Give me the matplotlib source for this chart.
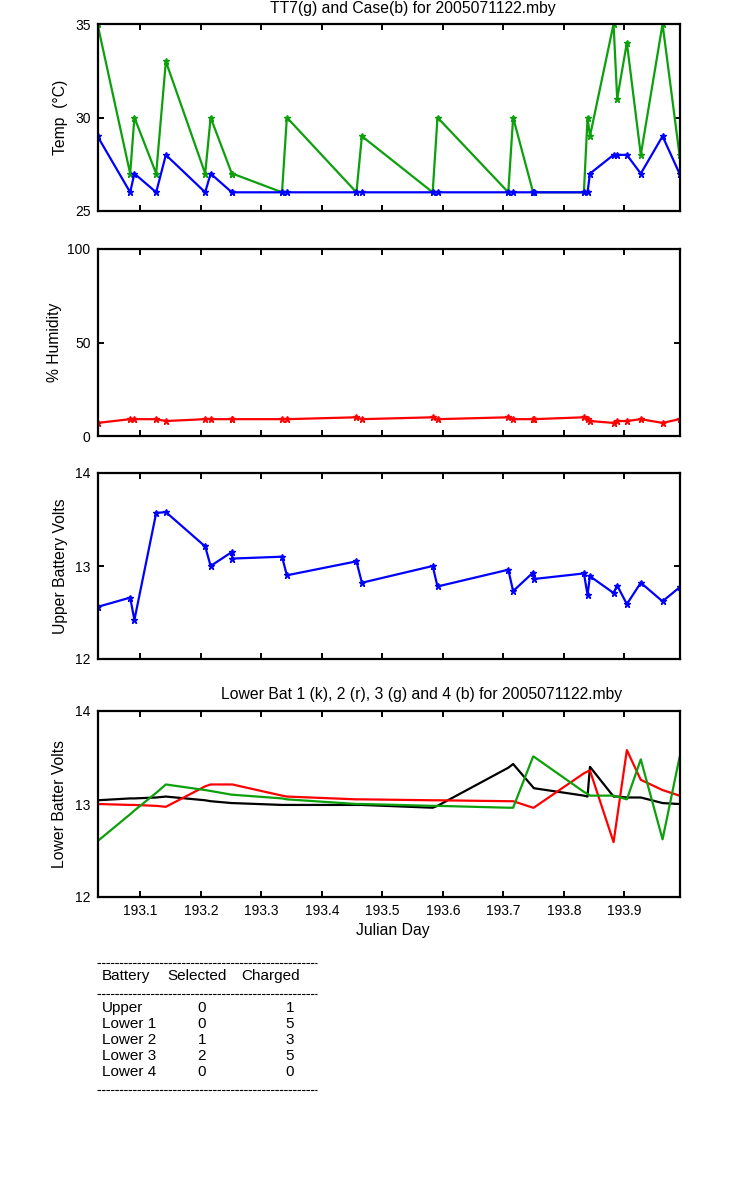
import numpy as np
import matplotlib
matplotlib.use('Agg')
import matplotlib.pyplot as plt
from matplotlib.lines import Line2D

plt.rcParams['font.family'] = ['Liberation Sans', 'DejaVu Sans']

# Julian day of each sample
t = [193.029, 193.083, 193.090, 193.126, 193.142, 193.207, 193.216, 193.251,
     193.252, 193.334, 193.342, 193.457, 193.466, 193.583, 193.591, 193.708,
     193.716, 193.749, 193.750, 193.833, 193.839, 193.843, 193.882, 193.888,
     193.904, 193.927, 193.963, 193.991]

tt7 = [35, 27, 30, 27, 33, 27, 30, 27, 27, 26, 30, 26, 29, 26, 30, 26,
       30, 26, 26, 26, 30, 29, 35, 31, 34, 28, 35, 28]
case = [29, 26, 27, 26, 28, 26, 27, 26, 26, 26, 26, 26, 26, 26, 26, 26,
        26, 26, 26, 26, 26, 27, 28, 28, 28, 27, 29, 27]

humidity = [7, 9, 9, 9, 8, 9, 9, 9, 9, 9, 9, 10, 9, 10, 9, 10,
            9, 9, 9, 10, 9, 8, 7, 8, 8, 9, 7, 9]

upper_bat = [12.56, 12.66, 12.42, 13.57, 13.58, 13.21, 13.00, 13.15, 13.08,
             13.10, 12.90, 13.05, 12.82, 13.00, 12.78, 12.96, 12.73, 12.93,
             12.86, 12.92, 12.69, 12.89, 12.71, 12.79, 12.59, 12.82, 12.62, 12.77]

lower1 = [13.04, 13.06, 13.06, 13.07, 13.08, 13.04, 13.03, 13.01, 13.01,
          12.99, 12.99, 12.99, 12.99, 12.96, 12.98, 13.39, 13.43, 13.18,
          13.17, 13.09, 13.08, 13.40, 13.08, 13.08, 13.07, 13.07, 13.01, 13.00]
lower2 = [13.00, 12.99, 12.99, 12.98, 12.97, 13.19, 13.21, 13.21, 13.21,
          13.09, 13.08, 13.05, 13.05, 13.04, 13.04, 13.03, 13.03, 12.96,
          12.96, 13.33, 13.35, 13.36, 12.59, 12.86, 13.58, 13.26, 13.15, 13.09]
lower3 = [12.60, 12.89, 12.93, 13.12, 13.21, 13.15, 13.14, 13.10, 13.10,
          13.06, 13.05, 13.00, 13.00, 12.98, 12.98, 12.96, 12.96, 13.51,
          13.51, 13.13, 13.11, 13.09, 13.09, 13.08, 13.05, 13.48, 12.62, 13.50]

x_ticks = [193.1, 193.2, 193.3, 193.4, 193.5, 193.6, 193.7, 193.8, 193.9]

tbl_batteries = ['Upper', 'Lower 1', 'Lower 2', 'Lower 3', 'Lower 4']
tbl_selected = [0, 0, 1, 2, 0]
tbl_charged = [1, 5, 3, 5, 0]

GREEN = '#0ca00c'
W, H = 750, 1200
LFS = 11.3   # label / title font size

fig = plt.figure(figsize=(7.5, 12), dpi=100)
fig.patch.set_facecolor('white')


def make_axes(top, bottom):
    ax = fig.add_axes([97.5 / W, 1 - bottom / H, 582 / W, (bottom - top) / H])
    for s in ax.spines.values():
        s.set_linewidth(1.6)
    ax.tick_params(direction='in', length=4, width=1.4, top=True, right=True,
                   labelsize=10, pad=5)
    ax.set_xlim(t[0], t[-1])
    ax.set_xticks(x_ticks)
    return ax


def ylab(ax, text, x):
    fig.text(x / W, 0.5 * (ax.get_position().y0 + ax.get_position().y1), text,
             rotation=90, ha='center', va='center', fontsize=LFS)


mk = dict(marker='*', markersize=5, lw=1.6)

# Temperature
ax1 = make_axes(24, 211)
ax1.plot(t, tt7, color=GREEN, **mk)
ax1.plot(t, case, color='#0000ff', **mk)
ax1.set_ylim(25, 35)
ax1.set_yticks([25, 30, 35])
ax1.set_xticklabels([])
ylab(ax1, 'Temp  (\u00b0C)', 61)
fig.text(413 / W, 1 - 9 / H, 'TT7(g) and Case(b) for 2005071122.mby',
         ha='center', va='center', fontsize=LFS)

# Humidity
ax2 = make_axes(249, 436)
ax2.plot(t, humidity, color='#ff0000', **mk)
ax2.set_ylim(0, 100)
ax2.set_yticks([0, 50, 100])
ax2.set_xticklabels([])
ylab(ax2, '% Humidity', 55)

# Upper battery
ax3 = make_axes(473, 659)
ax3.plot(t, upper_bat, color='#0000ff', **mk)
ax3.set_ylim(12, 14)
ax3.set_yticks([12, 13, 14])
ax3.set_xticklabels([])
ylab(ax3, 'Upper Battery Volts', 60)

# Lower batteries
ax4 = make_axes(711, 897)
ax4.plot(t, lower1, color='black', lw=1.6)
ax4.plot(t, lower2, color='#ff0000', lw=1.6)
ax4.plot(t, lower3, color=GREEN, lw=1.6)
ax4.set_ylim(12, 14)
ax4.set_yticks([12, 13, 14])
ax4.set_xticklabels(['%.1f' % v for v in x_ticks])
ylab(ax4, 'Lower Batter Volts', 60)
fig.text(422 / W, 1 - 694 / H,
         'Lower Bat 1 (k), 2 (r), 3 (g) and 4 (b) for 2005071122.mby',
         ha='center', va='center', fontsize=LFS)
fig.text(393 / W, 1 - 930 / H, 'Julian Day', ha='center', va='center',
         fontsize=LFS)

# battery table
for yy in [962.5, 994, 1090]:
    fig.add_artist(Line2D([97 / W, 317 / W], [1 - yy / H, 1 - yy / H],
                          color='black', lw=0.8, linestyle=(0, (3.2, 0.8)),
                          transform=fig.transFigure))
fs = 11
fig.text(102 / W, 1 - 976 / H, 'Battery', va='center', fontsize=fs)
fig.text(167 / W, 1 - 976 / H, 'Selected', va='center', fontsize=fs)
fig.text(241.5 / W, 1 - 976 / H, 'Charged', va='center', fontsize=fs)
for i, name in enumerate(tbl_batteries):
    yy = 1 - (1008 + 16 * i) / H
    fig.text(102 / W, yy, name, va='center', fontsize=fs)
    fig.text(202 / W, yy, str(tbl_selected[i]), ha='center', va='center', fontsize=fs)
    fig.text(290 / W, yy, str(tbl_charged[i]), ha='center', va='center', fontsize=fs)

fig.savefig('out.png', dpi=100, facecolor='white')
